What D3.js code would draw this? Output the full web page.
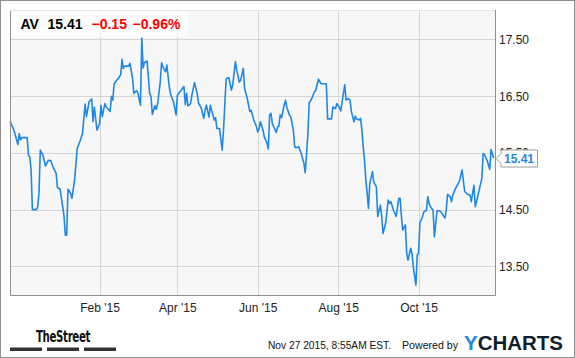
<!DOCTYPE html>
<html>
<head>
<meta charset="utf-8">
<script src="https://cdn.jsdelivr.net/npm/d3@7"></script>
<style>
  body { margin: 0; background: #fff; }
  svg { display: block; font-family: 'Liberation Sans', Arial, sans-serif; }
</style>
</head>
<body>
<svg class="container" width="575" height="358"></svg>
<script>
// Daily close, AV (Aviva), Nov '14 - Nov '15
const dates = [
  '2014-11-25', '2014-11-28', '2014-12-01', '2014-12-02', '2014-12-03', '2014-12-04', '2014-12-08', '2014-12-09',
  '2014-12-10', '2014-12-11', '2014-12-12', '2014-12-15', '2014-12-16', '2014-12-17', '2014-12-18', '2014-12-20',
  '2014-12-22', '2014-12-24', '2014-12-26', '2014-12-28', '2014-12-30', '2014-12-31', '2015-01-02', '2015-01-04',
  '2015-01-05', '2015-01-06', '2015-01-07', '2015-01-08', '2015-01-10', '2015-01-11', '2015-01-13', '2015-01-15',
  '2015-01-17', '2015-01-19', '2015-01-21', '2015-01-22', '2015-01-24', '2015-01-26', '2015-01-27', '2015-01-28',
  '2015-01-30', '2015-01-31', '2015-02-01', '2015-02-02', '2015-02-03', '2015-02-05', '2015-02-06', '2015-02-09',
  '2015-02-10', '2015-02-11', '2015-02-12', '2015-02-14', '2015-02-16', '2015-02-17', '2015-02-18', '2015-02-19',
  '2015-02-20', '2015-02-23', '2015-02-24', '2015-02-26', '2015-02-27', '2015-03-01', '2015-03-02', '2015-03-04',
  '2015-03-05', '2015-03-06', '2015-03-07', '2015-03-09', '2015-03-11', '2015-03-12', '2015-03-13', '2015-03-15',
  '2015-03-16', '2015-03-17', '2015-03-19', '2015-03-20', '2015-03-21', '2015-03-23', '2015-03-24', '2015-03-26',
  '2015-03-27', '2015-03-29', '2015-03-31', '2015-04-01', '2015-04-04', '2015-04-06', '2015-04-07', '2015-04-08',
  '2015-04-09', '2015-04-11', '2015-04-12', '2015-04-14', '2015-04-16', '2015-04-17', '2015-04-19', '2015-04-21',
  '2015-04-22', '2015-04-23', '2015-04-25', '2015-04-26', '2015-04-27', '2015-04-29', '2015-04-30', '2015-05-01',
  '2015-05-03', '2015-05-05', '2015-05-06', '2015-05-08', '2015-05-10', '2015-05-12', '2015-05-13', '2015-05-15',
  '2015-05-16', '2015-05-18', '2015-05-19', '2015-05-21', '2015-05-22', '2015-05-24', '2015-05-26', '2015-05-27',
  '2015-05-29', '2015-05-31', '2015-06-01', '2015-06-02', '2015-06-03', '2015-06-05', '2015-06-06', '2015-06-07',
  '2015-06-08', '2015-06-09', '2015-06-10', '2015-06-11', '2015-06-12', '2015-06-15', '2015-06-16', '2015-06-17',
  '2015-06-18', '2015-06-19', '2015-06-21', '2015-06-22', '2015-06-23', '2015-06-25', '2015-06-26', '2015-06-28',
  '2015-06-29', '2015-06-30', '2015-07-02', '2015-07-04', '2015-07-06', '2015-07-07', '2015-07-09', '2015-07-10',
  '2015-07-12', '2015-07-14', '2015-07-15', '2015-07-17', '2015-07-19', '2015-07-21', '2015-07-23', '2015-07-24',
  '2015-07-27', '2015-07-28', '2015-07-30', '2015-07-31', '2015-08-02', '2015-08-03', '2015-08-04', '2015-08-06',
  '2015-08-07', '2015-08-09', '2015-08-10', '2015-08-11', '2015-08-13', '2015-08-14', '2015-08-15', '2015-08-17',
  '2015-08-18', '2015-08-19', '2015-08-20', '2015-08-21', '2015-08-22', '2015-08-23', '2015-08-24', '2015-08-25',
  '2015-08-27', '2015-08-28', '2015-08-30', '2015-08-31', '2015-09-02', '2015-09-03', '2015-09-04', '2015-09-06',
  '2015-09-08', '2015-09-09', '2015-09-10', '2015-09-12', '2015-09-14', '2015-09-16', '2015-09-17', '2015-09-18',
  '2015-09-19', '2015-09-21', '2015-09-22', '2015-09-23', '2015-09-25', '2015-09-26', '2015-09-27', '2015-09-29',
  '2015-09-30', '2015-10-01', '2015-10-02', '2015-10-04', '2015-10-05', '2015-10-07', '2015-10-08', '2015-10-09',
  '2015-10-10', '2015-10-12', '2015-10-13', '2015-10-15', '2015-10-17', '2015-10-18', '2015-10-21', '2015-10-22',
  '2015-10-23', '2015-10-25', '2015-10-26', '2015-10-27', '2015-10-29', '2015-10-31', '2015-11-01', '2015-11-03',
  '2015-11-05', '2015-11-07', '2015-11-09', '2015-11-10', '2015-11-12', '2015-11-13', '2015-11-15', '2015-11-18',
  '2015-11-19', '2015-11-20', '2015-11-22', '2015-11-24', '2015-11-25', '2015-11-27',
];

const closes = [
  16.06, 15.90, 15.65, 15.84, 15.73, 15.77, 15.77, 15.46,
  15.43, 15.20, 14.50, 14.50, 14.55, 14.79, 15.55, 15.46,
  15.27, 15.37, 15.36, 15.23, 15.14, 14.89, 14.86, 14.55,
  14.38, 14.05, 14.05, 14.86, 14.79, 14.70, 15.02, 15.58,
  15.70, 15.84, 16.36, 16.14, 16.40, 16.45, 16.05, 16.31,
  15.90, 15.96, 16.02, 16.34, 16.14, 16.37, 16.31, 16.23,
  16.50, 16.43, 16.72, 16.78, 16.84, 16.88, 17.15, 16.99,
  17.03, 17.03, 17.08, 16.81, 16.55, 16.60, 16.56, 16.34,
  17.52, 17.00, 17.09, 17.12, 16.55, 16.49, 16.18, 16.33,
  16.27, 16.37, 16.75, 17.09, 17.02, 16.93, 17.05, 16.64,
  16.52, 16.41, 16.17, 16.52, 16.61, 16.67, 16.35, 16.55,
  16.33, 16.37, 16.52, 16.74, 16.55, 16.38, 16.30, 16.11,
  16.25, 16.34, 16.13, 16.34, 16.25, 16.08, 16.12, 15.93,
  15.93, 15.55, 15.90, 16.81, 16.83, 16.61, 16.70, 17.11,
  16.96, 16.75, 16.78, 16.99, 16.64, 16.46, 16.23, 16.25,
  16.08, 15.96, 15.87, 15.93, 16.05, 15.90, 15.78, 15.73,
  15.67, 15.57, 16.17, 16.20, 16.02, 15.86, 15.96, 15.97,
  16.17, 16.12, 16.34, 16.43, 16.31, 16.17, 16.14, 15.90,
  15.61, 15.59, 15.61, 15.49, 15.32, 15.15, 15.82, 16.38,
  16.46, 16.58, 16.60, 16.80, 16.72, 16.72, 16.72, 16.10,
  16.10, 16.31, 16.28, 16.37, 16.30, 16.24, 16.40, 16.70,
  16.43, 16.46, 16.43, 16.23, 16.05, 16.15, 16.10, 16.08,
  16.11, 15.90, 15.61, 15.37, 15.02, 14.79, 14.52, 14.96,
  15.17, 14.99, 14.90, 14.38, 14.58, 14.40, 14.08, 14.26,
  14.67, 14.61, 14.64, 14.49, 14.38, 14.70, 14.70, 14.38,
  14.14, 14.23, 13.73, 13.61, 13.82, 13.73, 13.49, 13.17,
  13.70, 13.73, 14.26, 14.38, 14.46, 14.49, 14.73, 14.61,
  14.55, 14.49, 14.02, 14.48, 14.48, 14.46, 14.35, 14.49,
  14.77, 14.73, 14.64, 14.76, 14.87, 14.96, 15.00, 15.20,
  14.82, 14.77, 14.76, 14.64, 14.93, 14.55, 14.74, 15.05,
  15.49, 15.47, 15.37, 15.21, 15.56, 15.41,
];

const yTicks = [13.5, 14.5, 15.5, 16.5, 17.5];
const xTicks = ['2015-02-01', '2015-04-01', '2015-06-01', '2015-08-01', '2015-10-01'];
const xDomain = ['2014-11-25', '2015-11-28'];
const yDomain = [12.995, 18.02];

const ticker = 'AV';
const lastPrice = 15.41;
const change = -0.15;
const changePct = -0.96;

const BLUE = '#1f88e5';
const PLOT = { LEFT: 10, TOP: 10, RIGHT: 495, BOTTOM: 295 };

const parseDate = d3.timeParse('%Y-%m-%d');
const dataset = dates.map((d, i) => ({ date: parseDate(d), close: closes[i] }));

const xScale = d3.scaleTime()
  .domain(xDomain.map(parseDate))
  .range([PLOT.LEFT, PLOT.RIGHT]);
const yScale = d3.scaleLinear()
  .domain(yDomain)
  .range([PLOT.BOTTOM, PLOT.TOP]);

const svg = d3.select('.container');

// Outer frame
svg.append('rect')
  .attr('x', 0.5).attr('y', 0.5)
  .attr('width', 574).attr('height', 357)
  .attr('fill', '#fff')
  .attr('stroke', '#8f8f8f');

// Plot background
svg.append('rect')
  .attr('x', PLOT.LEFT).attr('y', PLOT.TOP)
  .attr('width', PLOT.RIGHT - PLOT.LEFT).attr('height', PLOT.BOTTOM - PLOT.TOP)
  .attr('fill', '#f7f7f7');

// Grid lines, drawn with the axes and no domain path
const rightAxis = d3.axisRight(yScale)
  .tickValues(yTicks)
  .tickSize(-(PLOT.RIGHT - PLOT.LEFT))
  .tickPadding(4)
  .tickFormat(d3.format('.2f'));
const gy = svg.append('g')
  .attr('class', 'y-axis')
  .attr('transform', `translate(${PLOT.RIGHT},0)`)
  .call(rightAxis);

const bottomAxis = d3.axisBottom(xScale)
  .tickValues(xTicks.map(parseDate))
  .tickSize(-(PLOT.BOTTOM - PLOT.TOP))
  .tickPadding(8)
  .tickFormat(d3.timeFormat("%b '%y"));
const gx = svg.append('g')
  .attr('class', 'x-axis')
  .attr('transform', `translate(0,${PLOT.BOTTOM})`)
  .call(bottomAxis);

[gx, gy].forEach((g) => {
  g.select('.domain').remove();
  g.selectAll('.tick line').attr('stroke', '#d6d6d6').attr('shape-rendering', 'crispEdges');
  g.selectAll('.tick text')
    .attr('fill', '#222')
    .style('font-size', '12px')
    .style('font-family', "'Liberation Sans', Arial, sans-serif");
});

// Price line
const line = d3.line()
  .x(datum => xScale(datum.date))
  .y(datum => yScale(datum.close));
svg.append('path')
  .datum(dataset)
  .attr('class', 'price')
  .attr('fill', 'none')
  .attr('stroke', BLUE)
  .attr('stroke-width', 1.6)
  .attr('stroke-linejoin', 'round')
  .attr('d', line);

// Plot border (left, bottom, right)
svg.append('path')
  .attr('d', `M${PLOT.LEFT + 0.5},${PLOT.TOP}V${PLOT.BOTTOM + 0.5}H${PLOT.RIGHT + 0.5}V${PLOT.TOP}`)
  .attr('fill', 'none')
  .attr('stroke', '#8f8f8f');
svg.append('line')
  .attr('x1', PLOT.LEFT).attr('x2', PLOT.RIGHT)
  .attr('y1', PLOT.TOP + 0.5).attr('y2', PLOT.TOP + 0.5)
  .attr('stroke', '#e4e4e4');

// Last price flag on the right axis (covers the 15.50 label, as in the original)
const last = dataset[dataset.length - 1];
const ly = Math.round(yScale(last.close)) + 0.5;
const flag = svg.append('g').attr('class', 'last-flag');
flag.append('path')
  .attr('d', `M${PLOT.RIGHT + 1},${ly}L${PLOT.RIGHT + 6},${ly - 5}V${ly - 8.5}H${PLOT.RIGHT + 42.5}V${ly + 8.5}H${PLOT.RIGHT + 6}V${ly + 5}Z`)
  .attr('fill', '#fff')
  .attr('stroke', '#9a9a9a');
flag.append('text')
  .attr('x', PLOT.RIGHT + 24)
  .attr('y', ly + 4.5)
  .attr('text-anchor', 'middle')
  .attr('fill', BLUE)
  .style('font-size', '12px')
  .style('font-weight', 'bold')
  .text(d3.format('.2f')(lastPrice));

// Header with ticker and change
svg.append('rect')
  .attr('x', PLOT.LEFT + 1).attr('y', PLOT.TOP + 1)
  .attr('width', 177).attr('height', 26)
  .attr('fill', '#fff')
  .attr('fill-opacity', 0.75);
const header = svg.append('text')
  .attr('y', 29)
  .style('font-size', '14px')
  .style('font-weight', 'bold');
header.append('tspan').attr('x', 20.5).attr('fill', '#000').text(ticker);
header.append('tspan').attr('x', 47.5).attr('fill', '#000').text(d3.format('.2f')(lastPrice));
header.append('tspan').attr('x', 91.5).attr('fill', '#f00').text(d3.format('.2f')(change));
header.append('tspan').attr('x', 132.5).attr('fill', '#f00').text(`${d3.format('.2f')(changePct)}%`);

// Footer: TheStreet mark
svg.append('text')
  .attr('x', 63)
  .attr('y', 342)
  .attr('text-anchor', 'middle')
  .attr('textLength', 54)
  .attr('lengthAdjust', 'spacingAndGlyphs')
  .attr('fill', '#111')
  .style('font-family', "'Liberation Sans Narrow', 'DejaVu Sans Condensed', sans-serif")
  .style('font-size', '16px')
  .style('font-weight', 'bold')
  .style('letter-spacing', '-0.5px')
  .text('TheStreet');
svg.selectAll('.street-bar')
  .data([10, 47, 84])
  .enter()
  .append('rect')
  .attr('class', 'street-bar')
  .attr('x', d => d)
  .attr('y', 347.5)
  .attr('width', 32)
  .attr('height', 3.5)
  .attr('fill', '#333');

// Footer: timestamp and YCharts
svg.append('text')
  .attr('x', 268)
  .attr('y', 349)
  .attr('textLength', 123)
  .attr('lengthAdjust', 'spacingAndGlyphs')
  .attr('fill', '#111')
  .style('font-size', '11px')
  .text('Nov 27 2015, 8:55AM EST.');
svg.append('text')
  .attr('x', 402)
  .attr('y', 349)
  .attr('textLength', 56)
  .attr('lengthAdjust', 'spacingAndGlyphs')
  .attr('fill', '#111')
  .style('font-size', '11px')
  .text('Powered by');
const yc = svg.append('text')
  .attr('x', 464)
  .attr('y', 349.5)
  .attr('textLength', 99)
  .attr('lengthAdjust', 'spacingAndGlyphs')
  .style('font-size', '20px')
  .style('font-weight', 'bold');
yc.append('tspan').attr('fill', BLUE).text('Y');
yc.append('tspan').attr('fill', '#0e1e2e').text('CHARTS');
</script>
</body>
</html>
